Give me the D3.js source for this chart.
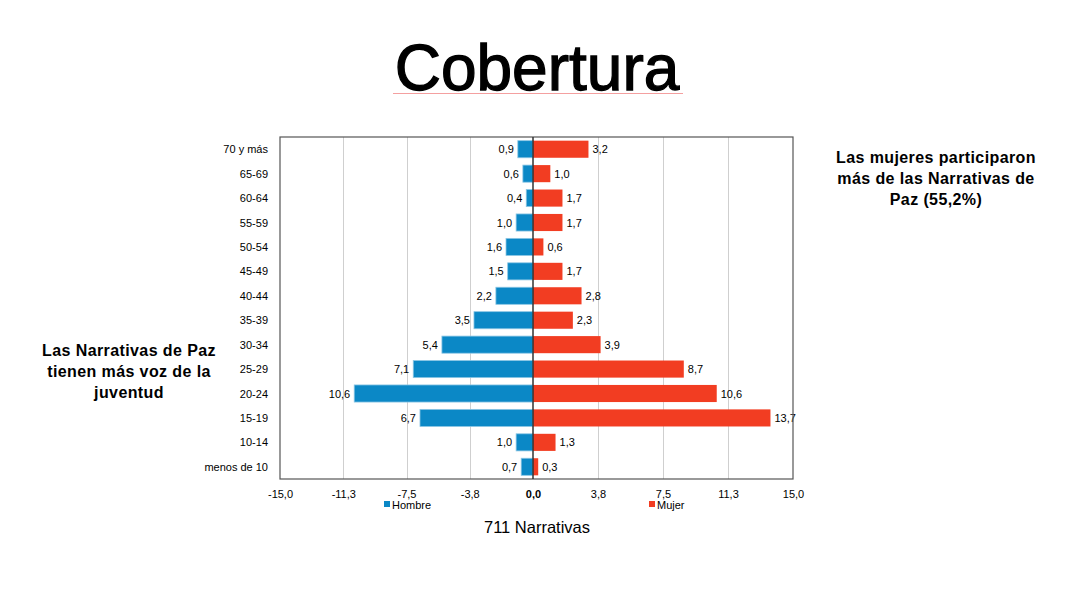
<!DOCTYPE html>
<html>
<head>
<meta charset="utf-8">
<script src="https://cdn.jsdelivr.net/npm/d3@7"></script>
<style>
  body { margin: 0; background: #fff; }
  text { font-family: "Liberation Sans", Arial, sans-serif; }
</style>
</head>
<body>
<svg id="chart" width="1075" height="602"></svg>
<script>
const ageGroups = ["70 y más", "65-69", "60-64", "55-59", "50-54", "45-49", "40-44",
    "35-39", "30-34", "25-29", "20-24", "15-19", "10-14", "menos de 10"];
const hombre = [0.9, 0.6, 0.4, 1.0, 1.6, 1.5, 2.2, 3.5, 5.4, 7.1, 10.6, 6.7, 1.0, 0.7];
const mujer = [3.2, 1.0, 1.7, 1.7, 0.6, 1.7, 2.8, 2.3, 3.9, 8.7, 10.6, 13.7, 1.3, 0.3];
const tickValues = [-15, -11.25, -7.5, -3.75, 0, 3.75, 7.5, 11.25, 15];

const fmt = v => Math.abs(v).toFixed(1).replace(".", ",");
const tickFmt = v => v.toFixed(1).replace(".", ",");

const svg = d3.select("#chart");
const plotL = 280, plotC = 533, plotR = 793, plotT = 137, plotB = 479;

const x = d3.scaleLinear().domain([-15, 0, 15]).range([plotL, plotC, plotR]);
const y = d3.scaleBand().domain(ageGroups).range([plotT, plotB]).paddingInner(0.3).paddingOuter(0.15);

// title
svg.append("text")
    .attr("x", 537).attr("y", 90)
    .attr("text-anchor", "middle")
    .style("font-size", "64px")
    .attr("stroke", "#000").attr("stroke-width", 1.3)
    .text("Cobertura");
svg.append("line")
    .attr("x1", 393).attr("x2", 683).attr("y1", 93.5).attr("y2", 93.5)
    .attr("stroke", "#f4a0a0").attr("stroke-width", 1);

// grid
svg.append("g").selectAll("line")
    .data(tickValues.filter(d => d !== 0 && Math.abs(d) !== 15))
    .join("line")
    .attr("x1", d => Math.round(x(d)) + 0.5).attr("x2", d => Math.round(x(d)) + 0.5)
    .attr("y1", plotT).attr("y2", plotB)
    .attr("stroke", "#cfcfcf").attr("stroke-width", 1);

// bars
const rows = ageGroups.map((g, i) => ({ g, h: hombre[i], m: mujer[i] }));

svg.append("g").selectAll("rect")
    .data(rows)
    .join("rect")
    .attr("x", d => x(-d.h))
    .attr("y", d => y(d.g))
    .attr("width", d => x(0) - x(-d.h))
    .attr("height", y.bandwidth())
    .attr("fill", "#0b88c6")
    .attr("stroke", "#8cc6e4").attr("stroke-width", 0.8);

svg.append("g").selectAll("rect")
    .data(rows)
    .join("rect")
    .attr("x", x(0))
    .attr("y", d => y(d.g))
    .attr("width", d => x(d.m) - x(0))
    .attr("height", y.bandwidth())
    .attr("fill", "#f23d22");

// value labels
svg.append("g").selectAll("text")
    .data(rows)
    .join("text")
    .attr("x", d => x(-d.h) - 4)
    .attr("y", d => y(d.g) + y.bandwidth() / 2 + 4)
    .attr("text-anchor", "end")
    .style("font-size", "11px")
    .text(d => fmt(d.h));

svg.append("g").selectAll("text")
    .data(rows)
    .join("text")
    .attr("x", d => x(d.m) + 4)
    .attr("y", d => y(d.g) + y.bandwidth() / 2 + 4)
    .style("font-size", "11px")
    .text(d => fmt(d.m));

// category labels
svg.append("g").selectAll("text")
    .data(ageGroups)
    .join("text")
    .attr("x", 268)
    .attr("y", d => y(d) + y.bandwidth() / 2 + 4)
    .attr("text-anchor", "end")
    .style("font-size", "11px")
    .text(d => d);

// frame and center line
svg.append("rect")
    .attr("x", plotL).attr("y", plotT)
    .attr("width", plotR - plotL).attr("height", plotB - plotT)
    .attr("fill", "none").attr("stroke", "#555").attr("stroke-width", 1.2);
svg.append("line")
    .attr("x1", x(0)).attr("x2", x(0)).attr("y1", plotT).attr("y2", plotB)
    .attr("stroke", "#333").attr("stroke-width", 1.5);

// x axis
const xAxis = svg.append("g")
    .attr("transform", `translate(0,${plotB})`)
    .call(d3.axisBottom(x).tickValues(tickValues).tickFormat(tickFmt).tickSize(0).tickPadding(11));
xAxis.select(".domain").remove();
xAxis.selectAll("text")
    .style("font-size", "11px")
    .style("font-family", "Liberation Sans, Arial, sans-serif")
    .style("font-weight", d => d === 0 ? "bold" : "normal")
    .attr("fill", "#000");

// legend
const legend = [{ name: "Hombre", color: "#0b88c6", x: 384 }, { name: "Mujer", color: "#f23d22", x: 649 }];
const lg = svg.append("g").selectAll("g").data(legend).join("g")
    .attr("transform", d => `translate(${d.x},501)`);
lg.append("rect").attr("width", 6).attr("height", 6).attr("fill", d => d.color);
lg.append("text").attr("x", 8).attr("y", 8).style("font-size", "11px").text(d => d.name);

svg.append("text")
    .attr("x", 537).attr("y", 533)
    .attr("text-anchor", "middle")
    .style("font-size", "16.5px")
    .text("711 Narrativas");

// side notes
function note(lines, cx, y0) {
    svg.append("g").selectAll("text")
        .data(lines)
        .join("text")
        .attr("x", cx)
        .attr("y", (d, i) => y0 + i * 21)
        .attr("text-anchor", "middle")
        .style("font-size", "16px")
        .style("letter-spacing", "0.4px")
        .style("font-weight", "bold")
        .text(d => d);
}
note(["Las mujeres participaron", "más de las Narrativas de", "Paz (55,2%)"], 936, 163);
note(["Las Narrativas de Paz", "tienen más voz de la", "juventud"], 129, 356);
</script>
</body>
</html>
